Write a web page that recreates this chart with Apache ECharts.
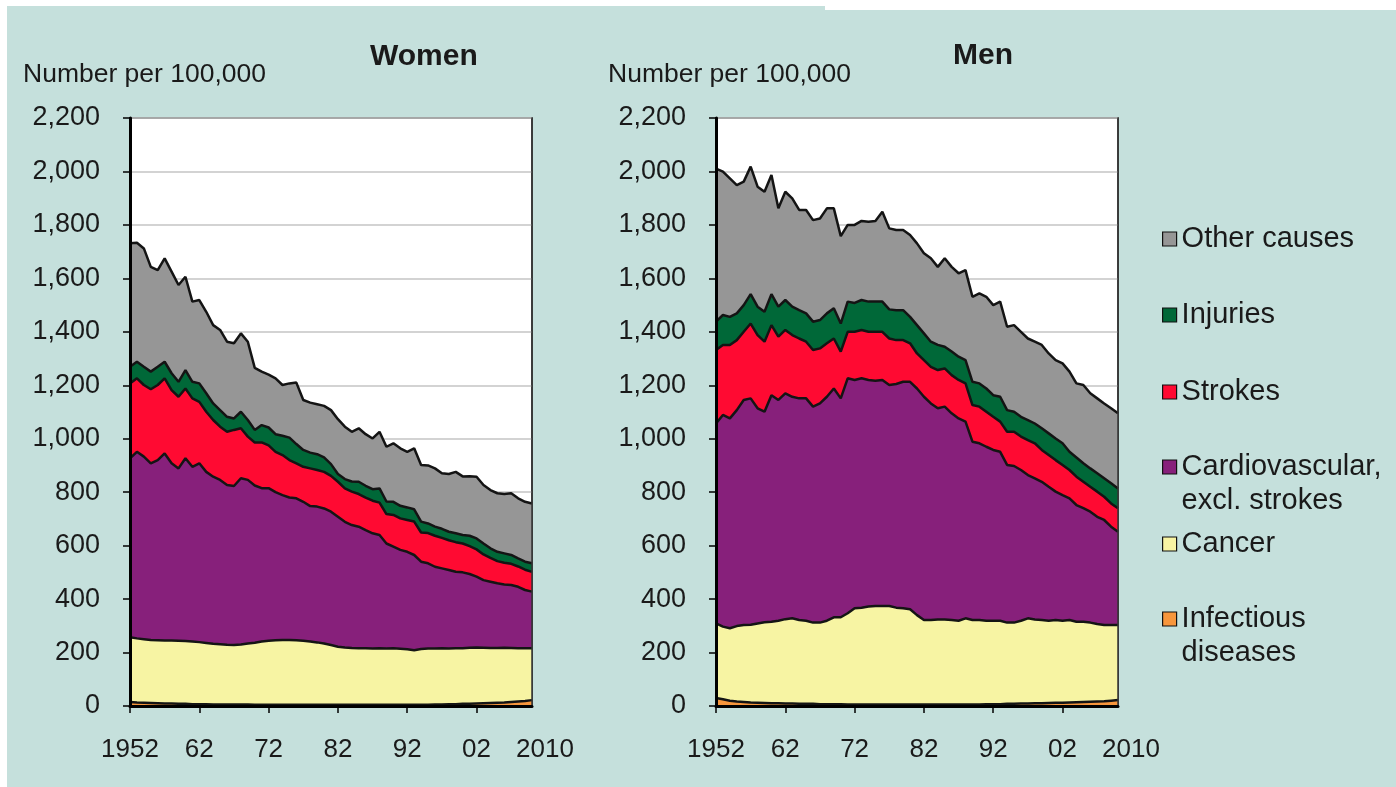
<!DOCTYPE html>
<html>
<head>
<meta charset="utf-8">
<title>Deaths per 100,000 by cause</title>
<script src="https://cdn.jsdelivr.net/npm/echarts@6/dist/echarts.min.js"></script>
<style>
  html, body { margin: 0; padding: 0; background: #ffffff; }
  #chart { width: 1396px; height: 787px; }
</style>
</head>
<body>
<div id="chart"></div>
<script>
// categories
const years = [
  '1952','1953','1954','1955','1956','1957','1958','1959','1960','1961',
  '1962','1963','1964','1965','1966','1967','1968','1969','1970','1971',
  '1972','1973','1974','1975','1976','1977','1978','1979','1980','1981',
  '1982','1983','1984','1985','1986','1987','1988','1989','1990','1991',
  '1992','1993','1994','1995','1996','1997','1998','1999','2000','2001',
  '2002','2003','2004','2005','2006','2007','2008','2009','2010'
];

const causes = ['Infectious diseases', 'Cancer', 'Cardiovascular, excl. strokes', 'Strokes', 'Injuries', 'Other causes'];
const causeColors = ['#f7963c', '#f7f4a3', '#87207b', '#ff0a32', '#006838', '#969696'];

// Women, number per 100,000
const womenInfectious = [
  15, 13, 12, 11, 10, 9, 9, 8, 8, 7,
  7, 7, 6, 6, 6, 6, 6, 6, 5, 5,
  5, 5, 5, 5, 5, 5, 5, 5, 5, 5,
  5, 5, 5, 5, 5, 5, 5, 5, 5, 5,
  5, 5, 5, 5, 6, 6, 7, 7, 8, 8,
  9, 10, 11, 12, 13, 15, 17, 19, 22
];
const womenCancer = [
  242, 240, 238, 236, 236, 236, 236, 236, 235, 234,
  232, 229, 227, 225, 223, 222, 224, 228, 232, 236,
  239, 241, 242, 242, 241, 239, 236, 233, 229, 223,
  217, 214, 212, 211, 211, 210, 211, 210, 211, 209,
  207, 204, 208, 210, 209, 210, 208, 209, 208, 210,
  210, 208, 206, 205, 205, 202, 199, 197, 194
];
const womenCardio = [
  670, 698, 683, 661, 674, 700, 663, 645, 684, 654,
  669, 640, 625, 615, 598, 595, 622, 612, 588, 574,
  571, 554, 542, 533, 531, 520, 507, 508, 505, 499,
  486, 470, 460, 455, 442, 431, 424, 393, 380, 370,
  365, 356, 327, 319, 306, 299, 294, 286, 284, 276,
  265, 253, 248, 242, 237, 236, 230, 218, 212
];
const womenStrokes = [
  280, 275, 268, 277, 281, 281, 274, 268, 261, 256,
  230, 225, 212, 199, 199, 210, 187, 162, 161, 171,
  160, 151, 150, 140, 131, 131, 141, 137, 137, 134,
  131, 125, 125, 122, 122, 122, 121, 110, 119, 118,
  119, 125, 109, 113, 116, 114, 111, 111, 108, 104,
  102, 96, 89, 83, 81, 79, 76, 76, 74
];
const womenInjuries = [
  62, 62, 68, 66, 68, 62, 63, 56, 69, 62,
  69, 69, 62, 62, 56, 43, 62, 62, 47, 65,
  67, 66, 72, 84, 72, 63, 59, 59, 54, 44,
  29, 35, 38, 46, 44, 43, 53, 47, 49, 47,
  47, 46, 41, 36, 34, 34, 32, 33, 32, 39,
  41, 41, 36, 35, 35, 33, 30, 30, 32
];
const womenOther = [
  462, 445, 443, 392, 362, 387, 380, 362, 349, 300,
  312, 305, 293, 300, 281, 281, 293, 293, 232, 200,
  198, 209, 190, 203, 230, 187, 187, 187, 193, 202,
  205, 196, 186, 200, 193, 190, 212, 205, 219, 215,
  208, 228, 212, 217, 218, 208, 216, 230, 219, 223,
  231, 219, 218, 219, 222, 231, 225, 224, 224
];

// Men, number per 100,000
const menInfectious = [
  30, 25, 20, 17, 15, 13, 12, 11, 10, 10,
  9, 9, 8, 8, 8, 7, 7, 7, 7, 6,
  6, 6, 6, 6, 6, 6, 6, 6, 6, 6,
  6, 6, 6, 6, 6, 6, 6, 6, 6, 7,
  7, 7, 8, 8, 9, 9, 10, 10, 11, 12,
  12, 13, 14, 15, 16, 17, 18, 20, 22
];
const menCancer = [
  279, 272, 271, 282, 288, 291, 297, 302, 305, 309,
  316, 319, 314, 311, 304, 305, 312, 325, 325, 341,
  360, 362, 366, 368, 368, 368, 362, 360, 356, 334,
  316, 316, 318, 318, 316, 313, 322, 316, 316, 312,
  312, 312, 304, 304, 310, 319, 314, 312, 308, 310,
  307, 309, 301, 300, 296, 290, 285, 283, 281
];
const menCardio = [
  748, 792, 785, 808, 842, 847, 805, 788, 848, 826,
  845, 829, 829, 832, 808, 820, 838, 856, 819, 879,
  854, 858, 848, 843, 846, 827, 837, 847, 851, 848,
  835, 810, 790, 796, 773, 757, 736, 667, 661, 651,
  639, 632, 590, 586, 564, 536, 528, 517, 501, 480,
  470, 455, 437, 425, 415, 401, 393, 368, 349
];
const menStrokes = [
  275, 262, 275, 262, 255, 280, 274, 262, 262, 237,
  237, 231, 224, 212, 212, 206, 200, 187, 175, 174,
  180, 181, 180, 183, 180, 174, 164, 156, 144, 131,
  137, 137, 143, 143, 143, 144, 143, 137, 137, 131,
  124, 113, 124, 128, 125, 131, 131, 119, 119, 118,
  113, 106, 106, 99, 93, 94, 87, 87, 88
];
const menInjuries = [
  106, 112, 105, 100, 100, 110, 106, 112, 116, 112,
  112, 106, 106, 106, 106, 106, 112, 113, 105, 113,
  108, 112, 113, 113, 113, 109, 112, 112, 99, 106,
  100, 94, 94, 81, 88, 87, 87, 87, 87, 87,
  81, 93, 81, 75, 74, 75, 74, 81, 81, 81,
  81, 68, 72, 69, 69, 69, 69, 75, 74
];
const menOther = [
  573, 536, 518, 480, 462, 477, 449, 449, 446, 368,
  405, 405, 375, 387, 380, 380, 393, 374, 327, 287,
  292, 296, 299, 302, 336, 303, 300, 300, 306, 306,
  300, 312, 292, 331, 317, 312, 337, 318, 337, 343,
  337, 356, 312, 324, 318, 305, 306, 312, 299, 293,
  299, 300, 277, 293, 281, 280, 280, 281, 281
];

const womenData = [womenInfectious, womenCancer, womenCardio, womenStrokes, womenInjuries, womenOther];
const menData = [menInfectious, menCancer, menCardio, menStrokes, menInjuries, menOther];

const FONT = '"Liberation Sans", Arial, sans-serif';
const TEXT = '#1a1a1a';
const lastIndex = years.length - 1;

function makeSeries(values, gridIndex) {
    return values.map((arr, i) => ({
        name: causes[i],
        type: 'line',
        stack: 'g' + gridIndex,
        xAxisIndex: gridIndex,
        yAxisIndex: gridIndex * 3,
        data: arr,
        symbol: 'none',
        // lower layers on top so every outline stays whole
        z: 10 - i,
        lineStyle: { color: '#141414', width: 2.5 },
        itemStyle: { color: causeColors[i] },
        areaStyle: { color: causeColors[i], opacity: 1 },
        emphasis: { disabled: true }
    }));
}

function makeXAxis(gridIndex) {
    return {
        type: 'category',
        gridIndex: gridIndex,
        data: years,
        boundaryGap: false,
        z: 20,
        axisLine: { lineStyle: { color: '#000', width: 3 } },
        axisTick: {
            interval: (i) => i % 10 === 0,
            length: 7,
            lineStyle: { color: '#000', width: 1.5 }
        },
        axisLabel: {
            interval: (i) => i % 10 === 0 || i === lastIndex,
            margin: 31,
            fontSize: 26,
            fontFamily: FONT,
            color: TEXT,
            formatter: (value, index) => {
                if (index === 0) return value;
                if (index === lastIndex) return '{last|' + value + '}';
                return value.slice(2);
            },
            rich: {
                last: { fontSize: 26, fontFamily: FONT, color: TEXT, padding: [0, 0, 0, 26] }
            }
        }
    };
}

function makeYAxes(gridIndex) {
    const base = { type: 'value', gridIndex: gridIndex, min: 0, max: 2200, interval: 200 };
    return [
        {
            ...base,
            position: 'left',
            z: 20,
            splitLine: { show: false },
            axisLine: { show: true, lineStyle: { color: '#000', width: 3 } },
            axisTick: { show: true, length: 7, lineStyle: { color: '#000', width: 1.5 } },
            axisLabel: {
                margin: 30,
                fontSize: 27,
                fontFamily: FONT,
                color: TEXT,
                formatter: (v) => v.toLocaleString('en-US')
            }
        },
        {
            ...base,
            position: 'left',
            z: 0,
            axisLine: { show: false },
            axisTick: { show: false },
            axisLabel: { show: false },
            splitLine: { show: true, lineStyle: { color: '#c4c4c4', width: 1.5 } }
        },
        {
            ...base,
            position: 'right',
            z: 20,
            axisLine: { show: true, lineStyle: { color: '#333', width: 1.5 } },
            axisTick: { show: false },
            axisLabel: { show: false },
            splitLine: { show: false }
        }
    ];
}

// legend, top to bottom; two-line labels get a blank first line so the
// square lines up with the first line of text
const legendOrder = [5, 4, 3, 2, 1, 0];
const legendTops = [222, 298, 375, 416, 527, 568];
const legendLabels = {
    'Cardiovascular, excl. strokes': ' \nCardiovascular,\nexcl. strokes',
    'Infectious diseases': ' \nInfectious\ndiseases'
};

const legends = legendOrder.map((ci, k) => {
    const name = causes[ci];
    return {
        data: [name],
        left: 1162,
        top: legendTops[k],
        padding: 0,
        icon: 'rect',
        itemWidth: 14,
        itemHeight: 14,
        itemStyle: { color: causeColors[ci], borderColor: '#111', borderWidth: 1.2 },
        formatter: (n) => legendLabels[n] || n,
        textStyle: {
            fontSize: 29,
            lineHeight: 34,
            fontFamily: FONT,
            color: TEXT
        }
    };
});

const chart = echarts.init(document.getElementById('chart'), null, { renderer: 'canvas' });

chart.setOption({
    animation: false,
    backgroundColor: '#c5e0dc',
    graphic: [
        { type: 'rect', left: 0, top: 0, shape: { width: 825, height: 6 }, style: { fill: '#ffffff' }, silent: true },
        { type: 'rect', left: 825, top: 0, shape: { width: 571, height: 10 }, style: { fill: '#ffffff' }, silent: true },
        { type: 'rect', left: 0, top: 0, shape: { width: 7, height: 787 }, style: { fill: '#ffffff' }, silent: true }
    ],
    title: [
        { text: 'Women', left: 370, top: 42, padding: 0, textStyle: { fontSize: 30, fontWeight: 'bold', fontFamily: FONT, color: TEXT } },
        { text: 'Men', left: 953, top: 41, padding: 0, textStyle: { fontSize: 30, fontWeight: 'bold', fontFamily: FONT, color: TEXT } },
        { text: 'Number per 100,000', left: 23, top: 61, padding: 0, textStyle: { fontSize: 26.5, fontWeight: 'normal', fontFamily: FONT, color: TEXT } },
        { text: 'Number per 100,000', left: 608, top: 61, padding: 0, textStyle: { fontSize: 26.5, fontWeight: 'normal', fontFamily: FONT, color: TEXT } }
    ],
    tooltip: { trigger: 'axis' },
    legend: legends,
    grid: [
        { left: 130, top: 118, width: 402, height: 588, show: true, backgroundColor: '#ffffff', borderColor: '#222', borderWidth: 1.5 },
        { left: 716, top: 118, width: 402, height: 588, show: true, backgroundColor: '#ffffff', borderColor: '#222', borderWidth: 1.5 }
    ],
    xAxis: [makeXAxis(0), makeXAxis(1)],
    yAxis: [...makeYAxes(0), ...makeYAxes(1)],
    series: [...makeSeries(womenData, 0), ...makeSeries(menData, 1)]
});
</script>
</body>
</html>
